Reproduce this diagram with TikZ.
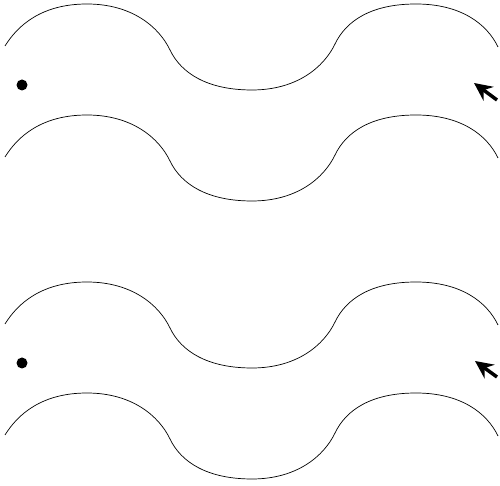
\documentclass[tikz,border=0pt]{standalone}
\usetikzlibrary{arrows.meta}
\begin{document}
\begin{tikzpicture}[x=1pt,y=1pt,line width=.7pt,
every node/.style={circle,fill,inner sep=0pt,minimum size=11pt}]
\useasboundingbox (0,0) rectangle (500,486);
\draw (5,440) .. controls +(13,21) and +(-45,0) .. ++(82,42)
 .. controls +(45,0) and +(-11,23) .. ++(83,-46)
 .. controls +(11,-23) and +(-45,0) .. ++(82,-40)
 .. controls +(45,0) and +(-11,-23) .. ++(83,46)
 .. controls +(11,23) and +(-45,0) .. ++(81,40)
 .. controls +(45,0) and +(-11,23) .. ++(82,-43);
\draw (5,329) .. controls +(13,21) and +(-45,0) .. ++(82,42)
 .. controls +(45,0) and +(-11,23) .. ++(83,-46)
 .. controls +(11,-23) and +(-45,0) .. ++(82,-40)
 .. controls +(45,0) and +(-11,-23) .. ++(83,46)
 .. controls +(11,23) and +(-45,0) .. ++(81,40)
 .. controls +(45,0) and +(-11,23) .. ++(82,-43);
\draw (5,162) .. controls +(13,21) and +(-45,0) .. ++(82,42)
 .. controls +(45,0) and +(-11,23) .. ++(83,-46)
 .. controls +(11,-23) and +(-45,0) .. ++(82,-40)
 .. controls +(45,0) and +(-11,-23) .. ++(83,46)
 .. controls +(11,23) and +(-45,0) .. ++(81,40)
 .. controls +(45,0) and +(-11,23) .. ++(82,-43);
\draw (5,51) .. controls +(13,21) and +(-45,0) .. ++(82,42)
 .. controls +(45,0) and +(-11,23) .. ++(83,-46)
 .. controls +(11,-23) and +(-45,0) .. ++(82,-40)
 .. controls +(45,0) and +(-11,-23) .. ++(83,46)
 .. controls +(11,23) and +(-45,0) .. ++(81,40)
 .. controls +(45,0) and +(-11,23) .. ++(82,-43);
\node (D1) at (22,401) {};
\node (D2) at (22,123) {};
\coordinate (T1) at (497,386);
\coordinate (H1) at (474,403);
\coordinate (T2) at (497,109);
\coordinate (H2) at (475,125);
\draw[line width=3.5pt,-{Stealth[length=18pt,width=17pt,inset=6pt]}] (T1)--(H1);
\draw[line width=3.5pt,-{Stealth[length=18pt,width=17pt,inset=6pt]}] (T2)--(H2);
\end{tikzpicture}
\end{document}
